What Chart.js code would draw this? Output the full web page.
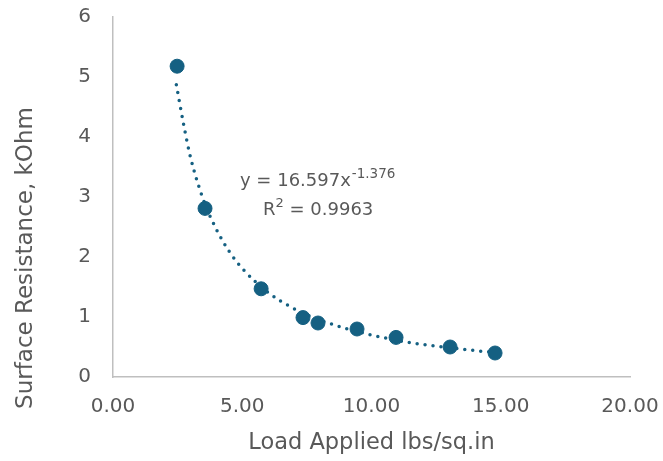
<!DOCTYPE html>
<html lang="en">
<head>
<meta charset="UTF-8" />
<title>Surface Resistance vs Load</title>
<script src="https://cdn.jsdelivr.net/npm/chart.js@4"></script>
<style>
  html, body { margin: 0; padding: 0; background: #fff; }
  #wrap { width: 663px; height: 461px; }
</style>
</head>
<body>
<div id="wrap"><canvas id="myChart" width="663" height="461"></canvas></div>
<script>
var loads = [2.48, 3.56, 5.73, 7.35, 7.93, 9.44, 10.95, 13.04, 14.78];
var resist = [5.18, 2.81, 1.47, 0.99, 0.90, 0.80, 0.66, 0.50, 0.40];

// dotted power trendline
var trendX = [2.45, 2.75, 3.0, 3.5, 4.0, 4.5, 5.0, 6.0, 7.0, 8.0, 9.0, 10.0, 11.0, 12.0, 13.0, 14.0, 14.8];
var trendY = [4.87, 4.17, 3.66, 2.95, 2.46, 2.09, 1.81, 1.41, 1.14, 0.95, 0.81, 0.70, 0.61, 0.54, 0.49, 0.44, 0.41];

var yTitle = 'Surface Resistance, kOhm';

var blue = '#156082';
var grey = '#595959';
var fontFam = '"DejaVu Sans", sans-serif';

var pts = [];
for (var i = 0; i < loads.length; i++) {
    pts.push({ x: loads[i], y: resist[i] });
}
var trend = [];
for (var j = 0; j < trendX.length; j++) {
    trend.push({ x: trendX[j], y: trendY[j] });
}

// equation label + y title (Excel puts the y title a bit lower than centre)
var extraText = {
    id: 'extraText',
    afterDraw: function (chart) {
        var c = chart.ctx;
        c.save();
        c.fillStyle = grey;
        c.textBaseline = 'alphabetic';
        c.textAlign = 'left';
        c.font = '18px ' + fontFam;
        var x0 = 240, y0 = 186;
        var t = 'y = 16.597x';
        c.fillText(t, x0, y0);
        var w = c.measureText(t).width;
        c.font = '13.5px ' + fontFam;
        c.fillText('-1.376', x0 + w + 1, y0 - 8);

        c.font = '18px ' + fontFam;
        var x1 = 263, y1 = 215;
        c.fillText('R', x1, y1);
        var wr = c.measureText('R').width;
        c.font = '13px ' + fontFam;
        c.fillText('2', x1 + wr, y1 - 8);
        var w2 = c.measureText('2').width;
        c.font = '18px ' + fontFam;
        c.fillText(' = 0.9963', x1 + wr + w2, y1);

        c.translate(26, 258);
        c.rotate(-Math.PI / 2);
        c.textAlign = 'center';
        c.textBaseline = 'middle';
        c.font = '23px ' + fontFam;
        c.fillText(yTitle, 0, 0);
        c.restore();
    }
};

var ctx = document.getElementById('myChart').getContext('2d');
var myChart = new Chart(ctx, {
    type: 'scatter',
    data: {
        datasets: [{
                label: 'Power trend',
                data: trend,
                showLine: true,
                borderColor: blue,
                borderWidth: 3.5,
                borderDash: [0, 8],
                borderCapStyle: 'round',
                cubicInterpolationMode: 'monotone',
                pointRadius: 0,
                order: 2
            },
            {
                label: 'Surface Resistance',
                data: pts,
                backgroundColor: blue,
                borderColor: blue,
                pointRadius: 7,
                pointHoverRadius: 7,
                order: 1
            }
        ]
    },
    options: {
        responsive: false,
        animation: false,
        layout: { padding: { top: 17, right: 33, left: 0, bottom: 0 } },
        plugins: {
            legend: { display: false },
            tooltip: { enabled: false }
        },
        scales: {
            x: {
                type: 'linear',
                min: 0,
                max: 20,
                ticks: {
                    stepSize: 5,
                    color: grey,
                    padding: 18,
                    font: { size: 20, family: fontFam },
                    callback: function (v) { return v.toFixed(2); }
                },
                grid: { display: false, drawTicks: false },
                border: { color: '#bfbfbf', width: 1.5 },
                title: {
                    display: true,
                    text: 'Load Applied lbs/sq.in',
                    color: grey,
                    font: { size: 22.5, family: fontFam },
                    padding: { top: 0, bottom: 4 }
                },
                afterFit: function (s) {
                    s.height = 84;
                    s.paddingLeft = 0;
                    s.paddingRight = 0;
                }
            },
            y: {
                min: 0,
                max: 6,
                ticks: {
                    stepSize: 1,
                    color: grey,
                    padding: 22,
                    font: { size: 20, family: fontFam }
                },
                grid: { display: false, drawTicks: false },
                border: { color: '#bfbfbf', width: 1.5 },
                title: { display: false },
                afterFit: function (s) {
                    s.width = 113;
                    s.paddingTop = 0;
                    s.paddingBottom = 0;
                }
            }
        }
    },
    plugins: [extraText]
});
</script>
</body>
</html>
